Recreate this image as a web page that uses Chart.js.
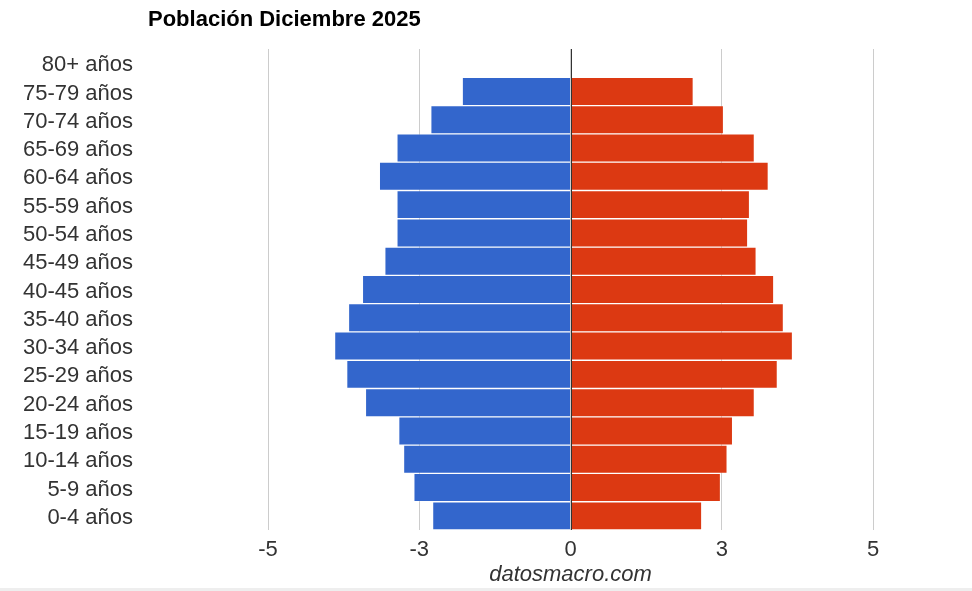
<!DOCTYPE html>
<html>
<head>
<meta charset="utf-8">
<script src="https://cdn.jsdelivr.net/npm/chart.js@4"></script>
<style>
  html, body { margin: 0; padding: 0; background: #fff; }
  #wrap { position: relative; width: 972px; height: 588px; }
  #caja { position: absolute; left: 0; top: 0; width: 972px; height: 588px; }
  #titulo { position: absolute; left: 148px; top: 6px; z-index: 2; font: bold 22px Arial, "Liberation Sans", sans-serif; line-height: 26px; color: #000; }
  #pie { width: 972px; height: 3px; background: #eeeeee; }
</style>
</head>
<body>
<div id="wrap">
  <div id="caja"><canvas id="piramide"></canvas></div>
  <div id="titulo">Población Diciembre 2025</div>
</div>
<div id="pie"></div>
<script>
const edades = ['80+ años', '75-79 años', '70-74 años', '65-69 años', '60-64 años', '55-59 años',
  '50-54 años', '45-49 años', '40-45 años', '35-40 años', '30-34 años', '25-29 años',
  '20-24 años', '15-19 años', '10-14 años', '5-9 años', '0-4 años'];
const hombres = [0, 1.79, 2.31, 2.87, 3.16, 2.87, 2.87, 3.07, 3.44, 3.67, 3.90, 3.70, 3.39, 2.84, 2.76, 2.59, 2.28];
const mujeres = [0, 2.03, 2.53, 3.04, 3.27, 2.96, 2.93, 3.07, 3.36, 3.52, 3.67, 3.42, 3.04, 2.68, 2.59, 2.48, 2.17];
const xTicks = [-5, -2.5, 0, 2.5, 5];
const xTickLabels = ['-5', '-3', '0', '3', '5'];

const fuente = 'Arial, "Liberation Sans", sans-serif';

// linea del cero por encima de las barras
const lineaCero = {
  id: 'lineaCero',
  afterDatasetsDraw(chart) {
    const x = Math.round(chart.scales.x.getPixelForValue(0)) + 0.5;
    const { top, bottom } = chart.chartArea;
    const c = chart.ctx;
    c.save();
    c.strokeStyle = '#333333';
    c.lineWidth = 1;
    c.beginPath();
    c.moveTo(x, top);
    c.lineTo(x, bottom);
    c.stroke();
    c.restore();
  }
};

new Chart(document.getElementById('piramide'), {
  type: 'bar',
  data: {
    labels: edades,
    datasets: [
      {
        label: 'Hombres',
        data: hombres.map(v => -v),
        backgroundColor: '#3366cc',
        borderColor: 'rgba(255,255,255,0.2)',
        borderWidth: 1
      },
      {
        label: 'Mujeres',
        data: mujeres,
        backgroundColor: '#dc3912',
        borderColor: 'rgba(255,255,255,0.2)',
        borderWidth: 1
      }
    ]
  },
  options: {
    indexAxis: 'y',
    responsive: true,
    maintainAspectRatio: false,
    animation: false,
    categoryPercentage: 1,
    barPercentage: 1,
    layout: { padding: { left: 0, right: 99, top: 49, bottom: 0 } },
    scales: {
      x: {
        min: -5,
        max: 5,
        afterBuildTicks: (scale) => { scale.ticks = xTicks.map(v => ({ value: v })); },
        afterFit: (scale) => {
          scale.height = 58;
          scale.paddingLeft = 0;
          scale.paddingRight = 0;
        },
        ticks: {
          padding: 7,
          color: '#333',
          font: { family: fuente, size: 22 },
          callback: (v) => xTickLabels[xTicks.indexOf(v)]
        },
        grid: { color: '#cccccc', drawTicks: false },
        border: { display: false },
        title: {
          display: true,
          text: 'datosmacro.com',
          color: '#333',
          font: { family: fuente, size: 22, style: 'italic' },
          padding: { top: 0, bottom: 0 }
        }
      },
      y: {
        stacked: true,
        afterFit: (scale) => {
          scale.width = 268;
          scale.paddingTop = 0;
          scale.paddingBottom = 0;
        },
        ticks: {
          autoSkip: false,
          padding: 135,
          labelOffset: 2,
          color: '#333',
          font: { family: fuente, size: 22 }
        },
        grid: { display: false, drawTicks: false },
        border: { display: false }
      }
    },
    plugins: {
      legend: { display: false },
      tooltip: { enabled: false }
    }
  },
  plugins: [lineaCero]
});
</script>
</body>
</html>
